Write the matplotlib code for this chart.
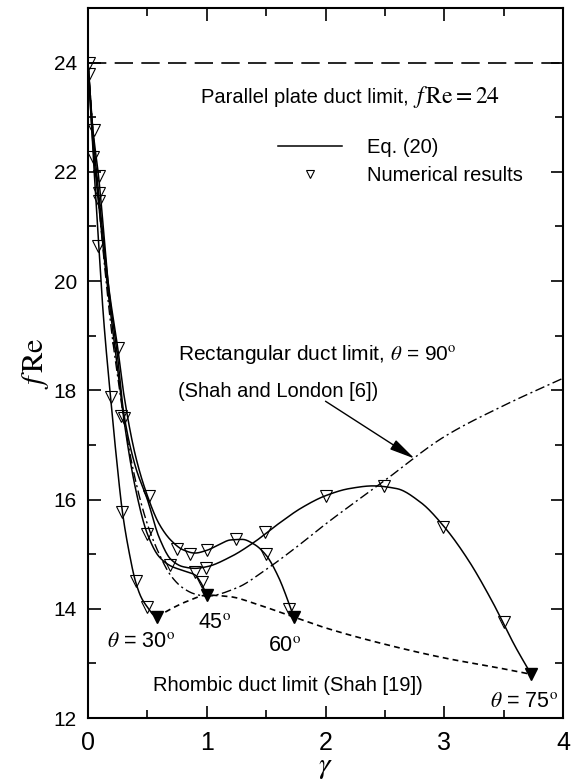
import numpy as np
import matplotlib
matplotlib.use("Agg")
import matplotlib.pyplot as plt
from matplotlib.lines import Line2D

plt.rcParams['font.family'] = ['Liberation Sans', 'DejaVu Sans']
plt.rcParams['mathtext.fontset'] = 'stix'

# Eq. (20) correlation curves for each apex angle
g30 = [0, 0.04, 0.085, 0.13, 0.19, 0.24, 0.29, 0.345, 0.4, 0.45, 0.5, 0.545, 0.577]
f30 = [24, 22.45, 20.85, 19.35, 17.87, 16.75, 15.77, 15.05, 14.5, 14.2, 14.03, 13.9, 13.85]

g45 = [0, 0.04, 0.09, 0.18, 0.25, 0.3, 0.4, 0.5, 0.6, 0.7, 0.8, 0.9, 0.95, 1.0]
f45 = [24, 22.55, 21.4, 19.6, 18.4, 17.5, 16.2, 15.37, 14.95, 14.78, 14.7, 14.62, 14.48, 14.25]

g60 = [0, 0.04, 0.09, 0.18, 0.25, 0.3, 0.4, 0.5, 0.6, 0.7, 0.8, 0.9, 1.0, 1.1, 1.2,
       1.3, 1.4, 1.5, 1.6, 1.7, 1.732]
f60 = [24, 22.75, 21.6, 19.8, 18.78, 17.95, 16.8, 16.07, 15.55, 15.25, 15.08, 15.02,
       15.07, 15.17, 15.26, 15.27, 15.18, 14.98, 14.6, 14.05, 13.85]

g75 = [0, 0.04, 0.09, 0.18, 0.25, 0.3, 0.4, 0.5, 0.6, 0.7, 0.8, 0.9, 1.0, 1.2, 1.4,
       1.6, 1.8, 2.0, 2.2, 2.4, 2.6, 2.8, 3.0, 3.2, 3.4, 3.6, 3.732]
f75 = [24, 22.8, 21.9, 19.75, 18.6, 17.6, 16.6, 16.0, 15.3, 14.9, 14.77, 14.74, 14.77,
       14.95, 15.22, 15.55, 15.85, 16.07, 16.2, 16.25, 16.2, 15.95, 15.5, 14.9, 14.15,
       13.3, 12.8]

# Numerical results
ng30 = [0.085, 0.19, 0.29, 0.4, 0.5]
nf30 = [20.64, 17.87, 15.77, 14.5, 14.03]
ng45 = [0.04, 0.09, 0.3, 0.5, 0.9, 0.96]
nf45 = [22.28, 21.46, 17.5, 15.37, 14.67, 14.49]
ng60 = [0.01, 0.05, 0.095, 0.255, 0.51, 0.75, 0.86, 1.0, 1.25, 1.5, 1.69]
nf60 = [23.8, 22.77, 21.62, 18.78, 16.07, 15.1, 15.0, 15.07, 15.28, 15.0, 14.0]
ng75 = [0.005, 0.09, 0.28, 0.69, 0.99, 1.49, 2.0, 2.49, 2.99, 3.5]
nf75 = [24.0, 21.92, 17.53, 14.8, 14.75, 15.4, 16.07, 16.24, 15.5, 13.76]

# Rhombic duct limit (Shah [19])
rhomb_g = [0.577, 0.7, 0.85, 1.0, 1.2, 1.4, 1.6, 1.732, 2.0, 2.5, 3.0, 3.5, 3.732]
rhomb_f = [13.85, 14.0, 14.15, 14.25, 14.22, 14.1, 13.95, 13.85, 13.65, 13.35, 13.1, 12.9, 12.8]
rhomb_pts_g = [0.577, 1.0, 1.732, 3.732]
rhomb_pts_f = [13.85, 14.25, 13.85, 12.8]

# Rectangular duct limit (Shah and London [6])
rect_g = [0, 0.05, 0.1, 0.15, 0.2, 0.25, 0.3, 0.4, 0.5, 0.6, 0.7, 0.8, 0.9, 1.0, 1.25,
          1.5, 1.75, 2.0, 2.5, 3.0, 3.5, 4.0]
rect_f = [24, 22.5, 21.2, 20.05, 19.05, 18.25, 17.5, 16.35, 15.55, 15.0, 14.6, 14.38,
          14.27, 14.23, 14.38, 14.72, 15.12, 15.55, 16.35, 17.15, 17.72, 18.22]

parallel_plate_f = 24


def smooth_path(x, y, n=400):
    """Shape-preserving cubic Hermite path through the given points."""
    x = np.asarray(x, float)
    y = np.asarray(y, float)
    h = np.diff(x)
    d = np.diff(y) / h
    m = np.zeros_like(y)
    for k in range(1, len(x) - 1):
        if d[k - 1] * d[k] > 0:
            w1 = 2 * h[k] + h[k - 1]
            w2 = h[k] + 2 * h[k - 1]
            m[k] = (w1 + w2) / (w1 / d[k - 1] + w2 / d[k])
    m[0] = d[0]
    m[-1] = d[-1]
    xs = np.linspace(x[0], x[-1], n)
    idx = np.clip(np.searchsorted(x, xs) - 1, 0, len(h) - 1)
    t = (xs - x[idx]) / h[idx]
    h00 = 2 * t**3 - 3 * t**2 + 1
    h10 = t**3 - 2 * t**2 + t
    h01 = -2 * t**3 + 3 * t**2
    h11 = t**3 - t**2
    ys = (h00 * y[idx] + h10 * h[idx] * m[idx]
          + h01 * y[idx + 1] + h11 * h[idx] * m[idx + 1])
    return xs, ys


fig = plt.figure(figsize=(5.71, 7.81), dpi=100)
ax = fig.add_axes([88 / 571, 1 - 718 / 781, 475 / 571, 710 / 781])

lw = 1.1
for g, f in [(g30, f30), (g45, f45), (g60, f60), (g75, f75)]:
    xs, ys = smooth_path(g, f)
    ax.plot(xs, ys, color='black', lw=lw, zorder=3)

for g, f in [(ng30, nf30), (ng45, nf45), (ng60, nf60), (ng75, nf75)]:
    ax.plot(g, f, linestyle='none', marker='v', ms=8, mfc='none', mec='black',
            mew=0.8, zorder=4)

xs, ys = smooth_path(rhomb_g, rhomb_f)
ax.plot(xs, ys, color='black', lw=1.2, dashes=(3.5, 2.5), zorder=2)
ax.plot(rhomb_pts_g, rhomb_pts_f, linestyle='none', marker='v', ms=9,
        color='black', zorder=5)

xs, ys = smooth_path(rect_g, rect_f)
ax.plot(xs, ys, color='black', lw=1.0, dashes=(7, 2.5, 1.5, 2.5), zorder=2)

ax.axhline(parallel_plate_f, color='black', lw=1.2, dashes=(11, 5), zorder=2)

ax.set_xlim(0, 4)
ax.set_ylim(12, 25)
ax.set_xticks([0, 1, 2, 3, 4])
ax.set_xticks([0.5, 1.5, 2.5, 3.5], minor=True)
ax.set_yticks([12, 14, 16, 18, 20, 22, 24])
ax.set_yticks([13, 15, 17, 19, 21, 23], minor=True)
ax.tick_params(which='both', direction='in', top=True, right=True, width=1.2)
ax.tick_params(which='major', length=9)
ax.tick_params(which='minor', length=6)
ax.tick_params(axis='x', which='major', labelsize=18, pad=9)
ax.tick_params(axis='y', which='major', labelsize=15, pad=8)
for s in ax.spines.values():
    s.set_linewidth(1.5)

ax.set_xlabel(r'$\gamma$', fontsize=21, va='top')
ax.xaxis.set_label_coords(0.5, -0.049)
ax.set_ylabel(r'$f\,\mathrm{Re}$', fontsize=22, labelpad=2)

fs = 14.5
deg = r'$^{\mathrm{o}}$'
pp = ax.text(0.95, 23.37, 'Parallel plate duct limit,', fontsize=fs,
             va='center', ha='left')
ax.annotate(r'$f\,\mathrm{Re} = 24$', xy=(1.0, 0.5), xycoords=pp,
            xytext=(3, 0), textcoords='offset points', fontsize=17,
            va='center', ha='left')
ax.text(0.76, 18.65, r'Rectangular duct limit, $\theta$ = 90' + deg,
        fontsize=15, va='center', ha='left')
ax.text(0.76, 17.97, '(Shah and London [6])', fontsize=fs, va='center', ha='left')
ax.text(0.55, 12.6, 'Rhombic duct limit (Shah [19])', fontsize=fs,
        va='center', ha='left')
ax.text(0.16, 13.4, r'$\theta$ = 30' + deg, fontsize=15.5, va='center', ha='left')
ax.text(1.07, 13.75, '45' + deg, fontsize=15.5, va='center', ha='center')
ax.text(1.66, 13.32, '60' + deg, fontsize=15.5, va='center', ha='center')
ax.text(3.67, 12.3, r'$\theta$ = 75' + deg, fontsize=15.5, va='center', ha='center')

ax.annotate('', xy=(2.75, 16.75), xytext=(2.0, 17.8),
            arrowprops=dict(arrowstyle='-|>,head_length=1.3,head_width=0.28',
                            color='black', lw=1.0, mutation_scale=12,
                            shrinkA=0, shrinkB=0))

handles = [Line2D([], [], color='black', lw=lw),
           Line2D([], [], linestyle='none', marker='v', ms=6, mfc='none',
                  mec='black', mew=0.8)]
ax.legend(handles, ['Eq. (20)', 'Numerical results'], loc='upper left',
          bbox_to_anchor=(0.4, 0.817), frameon=False, fontsize=fs,
          handlelength=3.2, handletextpad=1.2, labelspacing=0.45,
          borderpad=0, borderaxespad=0)

fig.savefig('out.png', dpi=100)
